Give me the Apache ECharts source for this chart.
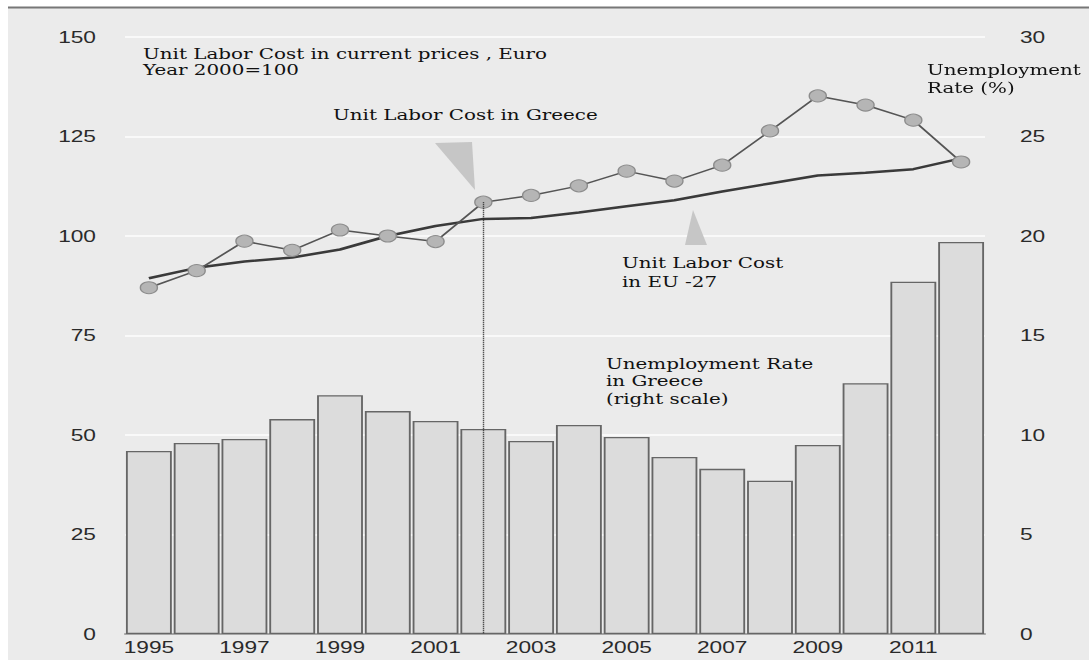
<!DOCTYPE html>
<html><head><meta charset="utf-8">
<script src="https://cdn.jsdelivr.net/npm/echarts@6/dist/echarts.min.js"></script>
<style>
html,body{margin:0;padding:0;background:#fff;overflow:hidden}
#wrap{width:1089px;height:660px;overflow:hidden;position:relative}
#c{position:absolute;left:0;top:0;height:660px;transform-origin:0 0}
</style>
</head><body><div id="wrap"><div id="c"></div></div><script>
// ---- data ----
const years = ['1995','1996','1997','1998','1999','2000','2001','2002','2003','2004','2005','2006','2007','2008','2009','2010','2011','2012'];
const unemploymentGreece = [9.2, 9.6, 9.8, 10.8, 12.0, 11.2, 10.7, 10.3, 9.7, 10.5, 9.9, 8.9, 8.3, 7.7, 9.5, 12.6, 17.7, 19.7];
const ulcGreece = [87.0, 91.3, 98.7, 96.4, 101.5, 100.0, 98.6, 108.5, 110.2, 112.6, 116.3, 113.8, 117.8, 126.4, 135.2, 132.9, 129.1, 118.6];
const ulcEU27 = [89.4, 92.0, 93.6, 94.6, 96.6, 100.0, 102.5, 104.3, 104.5, 105.9, 107.5, 109.0, 111.2, 113.2, 115.2, 115.9, 116.8, 119.5];
const leftTicks = [0, 150, 25];
const rightTicks = [0, 30, 5];

// The reference picture is stretched horizontally; draw narrower and stretch with CSS.
const S = 1.42;
const W = 1089 / S;
const el = document.getElementById('c');
el.style.width = W + 'px';
el.style.transform = 'scaleX(' + S + ')';
const px = v => v / S;

const serif = '"DejaVu Serif", serif';
const sans = '"Liberation Sans", Arial, sans-serif';
function note(x, y, text, lh) {
  return {type:'text', x:px(x), y:y, z:100,
    style:{text:text, font:'14px ' + serif, fill:'#111', lineHeight: lh || 17, textVerticalAlign:'top'}};
}

const chart = echarts.init(el, null, {renderer:'svg', width:W, height:660});
chart.setOption({
  backgroundColor:'#ebebeb',
  animation:false,
  grid:{left:px(125), right:px(1089-985), top:37, bottom:26},
  xAxis:{type:'category', data:years, boundaryGap:true,
    axisLine:{show:true, lineStyle:{color:'#8a8a8a', width:1.5}},
    axisTick:{show:false},
    axisLabel:{interval:1, color:'#2a2a2a', fontFamily:sans, fontSize:16, margin:5}},
  yAxis:[
    {type:'value', min:leftTicks[0], max:leftTicks[1], interval:leftTicks[2],
     axisLine:{show:false}, axisTick:{show:false},
     axisLabel:{color:'#2a2a2a', fontFamily:sans, fontSize:16, margin:px(29)},
     splitLine:{show:true, lineStyle:{color:'#f9f9f9', width:2}}},
    {type:'value', min:rightTicks[0], max:rightTicks[1], interval:rightTicks[2], position:'right',
     axisLine:{show:false}, axisTick:{show:false},
     axisLabel:{color:'#2a2a2a', fontFamily:sans, fontSize:16, margin:px(35)},
     splitLine:{show:false}}
  ],
  series:[
    {name:'Unemployment Rate in Greece', type:'bar', yAxisIndex:1, data:unemploymentGreece,
     barCategoryGap:'4%',
     itemStyle:{color:'#dcdcdc', borderColor:'#666', borderWidth:1.3}},
    {name:'Unit Labor Cost in EU-27', type:'line', yAxisIndex:0, data:ulcEU27,
     symbol:'none', lineStyle:{color:'#3a3a3a', width:2.5}, z:3},
    {name:'Unit Labor Cost in Greece', type:'line', yAxisIndex:0, data:ulcGreece,
     symbol:'circle', symbolSize:12, showAllSymbol:true,
     lineStyle:{color:'#555', width:1.5},
     itemStyle:{color:'#b5b5b5', borderColor:'#8c8c8c', borderWidth:1}, z:4,
     markLine:{silent:true, symbol:'none', label:{show:false},
       lineStyle:{color:'#222', type:'dotted', width:1},
       data:[[{coord:[years[7], ulcGreece[7]]},{coord:[years[7], 0]}]]}}
  ],
  graphic:[
    {type:'rect', shape:{x:0, y:0, width:px(8), height:660}, style:{fill:'#fff'}, z:90},
    {type:'rect', shape:{x:0, y:0, width:W, height:7}, style:{fill:'#fff'}, z:90},
    {type:'line', shape:{x1:px(8), y1:7.5, x2:W, y2:7.5}, style:{stroke:'#777', lineWidth:2}, z:91},
    {type:'polygon', shape:{points:[[px(435),143],[px(472),142],[px(475),190]]}, style:{fill:'#c6c6c6'}, z:95},
    {type:'polygon', shape:{points:[[px(693),210],[px(685),245],[px(707),245]]}, style:{fill:'#c6c6c6'}, z:95},
    note(143, 46, 'Unit Labor Cost in current prices , Euro\nYear 2000=100', 16),
    note(333, 107, 'Unit Labor Cost in Greece'),
    note(622, 254, 'Unit Labor Cost\nin EU -27', 19),
    note(606, 355, 'Unemployment Rate\nin Greece\n(right scale)', 17.5),
    note(927, 61, 'Unemployment\nRate (%)', 18)
  ]
});
</script></body></html>
